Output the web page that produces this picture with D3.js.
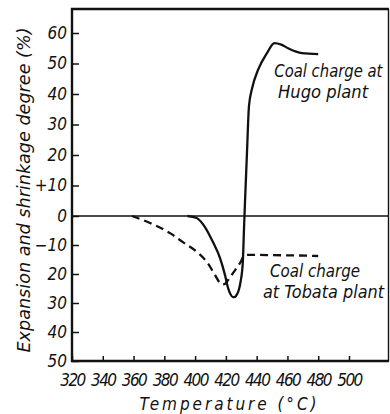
<!DOCTYPE html>
<html>
<head>
<meta charset="utf-8">
<script src="https://cdn.jsdelivr.net/npm/d3@7"></script>
<style>
  body { margin: 0; background: #fff; }
  svg { display: block; }
  text { font-family: "DejaVu Sans Condensed", "DejaVu Sans", sans-serif; font-style: italic; fill: #111; }
</style>
</head>
<body>
<div id="chart"></div>
<script>
// Hugo plant coal charge (solid)
var hugoTemp = [395, 401, 406.4, 411.6, 416.2, 419.4, 421.4, 423, 424.6, 426, 427.2, 428.4, 429.6, 431, 431.8, 432.4, 433.7, 435, 437, 440.9, 446.7, 451.5, 456, 460.4, 469.5, 480];
var hugoValue = [0, -0.7, -3.8, -9, -14.5, -20.3, -24.8, -27, -28, -27.9, -27, -25.5, -22.5, -15.9, -4, 4.3, 20.7, 36, 41.8, 47.9, 53.4, 56.7, 56.2, 55, 53.4, 53.1];

// Tobata plant coal charge (dashed)
var tobataTemp = [359, 370.7, 383.7, 392.1, 401.2, 407.7, 412.9, 416.2, 418.1, 419.5, 421.4, 424.6, 429.2, 431.8, 434, 437.6, 450, 465, 480];
var tobataValue = [0, -2.4, -5.9, -9, -12.4, -15.9, -20.3, -23.1, -23.6, -23.4, -22.1, -19.7, -16.2, -13.8, -13.4, -13.4, -13.5, -13.6, -13.8];

var xTicks = [320, 340, 360, 380, 400, 420, 440, 460, 480, 500];
var yTicks = [60, 50, 40, 30, 20, 10, 0, -10, -20, -30, -40, -50];
var yTickLabels = ['60', '50', '40', '30', '20', '+10', '0', '\u221210', '20', '30', '40', '50'];

var width = 390, height = 414;

var svg = d3.select('#chart').append('svg')
  .attr('width', width)
  .attr('height', height);

// the printed axis is not quite linear: a little tighter below zero
var x = d3.scaleLinear().domain([320, 526]).range([72, 389]);
var y = d3.scaleLinear().domain([-50, 0, 60, 68]).range([361, 216, 33, 9]);

// zero line
svg.append('line')
  .attr('x1', x(320)).attr('x2', x(526))
  .attr('y1', y(0)).attr('y2', y(0))
  .attr('stroke', '#111')
  .attr('stroke-width', 1.4);

// axes, ticks pointing inwards
var yAxis = d3.axisLeft(y)
  .tickValues(yTicks)
  .tickFormat(function(d, i) { return yTickLabels[i]; })
  .tickSize(-7)
  .tickPadding(5);

var gy = svg.append('g')
  .attr('transform', 'translate(' + x(320) + ',0)')
  .call(yAxis);
gy.select('.domain').remove();
gy.attr('font-family', null).attr('font-size', null);
gy.selectAll('line').attr('stroke', '#111').attr('stroke-width', 1.5);
gy.selectAll('text')
  .style('font-size', '17px')
  .attr('fill', '#111');

var xAxis = d3.axisBottom(x)
  .tickValues(xTicks)
  .tickSize(-5)
  .tickPadding(13);

var gx = svg.append('g')
  .attr('transform', 'translate(0,' + y(-50) + ')')
  .call(xAxis);
gx.select('.domain').remove();
gx.attr('font-family', null).attr('font-size', null);
gx.selectAll('line').attr('stroke', '#111').attr('stroke-width', 1.5);
gx.selectAll('text')
  .style('font-size', '17px')
  .style('letter-spacing', '-1.6px')
  .attr('fill', '#111');

// frame
svg.append('path')
  .attr('d', 'M' + x(526) + ',' + y(68) + 'H' + x(320) + 'V' + y(-50) + 'H' + x(526))
  .attr('fill', 'none')
  .attr('stroke', '#111')
  .attr('stroke-width', 2.4);
svg.append('line')
  .attr('x1', x(526) - 0.5).attr('x2', x(526) - 0.5)
  .attr('y1', y(68)).attr('y2', y(-50))
  .attr('stroke', '#111')
  .attr('stroke-width', 1.4);

// curves
var line = d3.line()
  .x(function(d) { return x(d[0]); })
  .y(function(d) { return y(d[1]); })
  .curve(d3.curveMonotoneX);

svg.append('path')
  .datum(d3.zip(hugoTemp, hugoValue))
  .attr('d', line)
  .attr('fill', 'none')
  .attr('stroke', '#111')
  .attr('stroke-width', 2.3);

svg.append('path')
  .datum(d3.zip(tobataTemp, tobataValue))
  .attr('d', line)
  .attr('fill', 'none')
  .attr('stroke', '#111')
  .attr('stroke-width', 2.3)
  .attr('stroke-dasharray', '8,5');

// annotations
var notes = [
  { t: 451.5, v: 45.6, text: 'Coal charge at', len: 108 },
  { t: 453.9, v: 38.7, text: 'Hugo plant', len: 90 },
  { t: 448.7, v: -21, text: 'Coal charge', len: 90 },
  { t: 444.1, v: -28.3, text: 'at Tobata plant', len: 121 }
];

svg.selectAll('.note')
  .data(notes)
  .enter().append('text')
  .attr('class', 'note')
  .attr('x', function(d) { return x(d.t); })
  .attr('y', function(d) { return y(d.v); })
  .style('font-size', '17px')
  .attr('textLength', function(d) { return d.len; })
  .attr('lengthAdjust', 'spacingAndGlyphs')
  .text(function(d) { return d.text; });

// axis titles
svg.append('text')
  .attr('x', 228)
  .attr('y', 410)
  .attr('text-anchor', 'middle')
  .style('font-size', '17px')
  .attr('textLength', 177)
  .attr('lengthAdjust', 'spacing')
  .text('Temperature (\u00b0C)');

svg.append('text')
  .attr('transform', 'translate(30,190) rotate(-90)')
  .attr('text-anchor', 'middle')
  .style('font-size', '18px')
  .attr('textLength', 325)
  .attr('lengthAdjust', 'spacingAndGlyphs')
  .text('Expansion and shrinkage degree  (%)');
</script>
</body>
</html>
